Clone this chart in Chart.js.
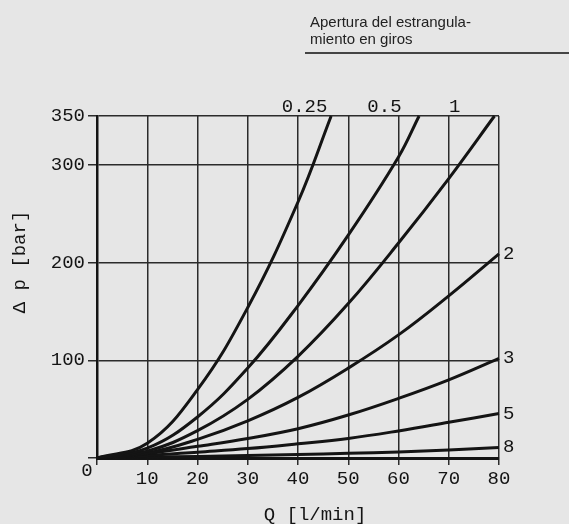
<!DOCTYPE html>
<html>
<head>
<meta charset="utf-8">
<script src="https://cdn.jsdelivr.net/npm/chart.js@4"></script>
<style>
    body {
        margin: 0;
        background: #e6e6e6;
    }
    #wrap {
        position: relative;
        width: 569px;
        height: 524px;
    }
    .legend-title {
        position: absolute;
        left: 310px;
        top: 13px;
        font-family: "Liberation Sans", Arial, sans-serif;
        font-size: 15px;
        line-height: 17px;
        color: #222;
    }
    .legend-rule {
        position: absolute;
        left: 305px;
        top: 52px;
        width: 264px;
        height: 2px;
        background: #444;
    }
</style>
</head>
<body>
<div id="wrap">
    <div class="legend-title">Apertura del estrangula-<br>miento en giros</div>
    <div class="legend-rule"></div>
    <canvas id="throttleChart" width="569" height="524"></canvas>
</div>
<script>
// Opening of the throttle in turns (curve labels)
const openings = ["0.25", "0.5", "1", "2", "3", "5", "8"];

// Flow Q [l/min] and pressure drop [bar]
const q025 = [0, 10, 20, 30, 40, 46.6];
const p025 = [0, 15, 70, 154, 262, 350];

const q05 = [0, 10, 20, 30, 40, 50, 60, 64.1];
const p05 = [0, 10, 42, 92, 156, 228, 308, 350];

const q1 = [0, 10, 20, 30, 40, 50, 60, 70, 79.1];
const p1 = [0, 7, 28, 60, 104, 158, 220, 286, 350];

const flowQ = [0, 10, 20, 30, 40, 50, 60, 70, 80];
const p2 = [0, 5, 19, 38, 62, 92, 126, 166, 209];
const p3 = [0, 4.5, 12, 20, 30, 44, 61, 80, 102];
const p5 = [0, 2.5, 6, 9.6, 14.5, 20, 27.7, 36.5, 45.5];
const p8 = [0, 0.8, 1.6, 2.5, 3.6, 4.8, 6.2, 8.2, 10.8];

// Axis ticks
const yTicks = [0, 100, 200, 300, 350];
const xMax = 80;

const seriesQ = [q025, q05, q1, flowQ, flowQ, flowQ, flowQ];
const seriesP = [p025, p05, p1, p2, p3, p5, p8];

// Where each curve name goes: "top" labels sit above the frame at a Q value,
// "end" labels sit right of the curve's last point
const labelPlace = [
    { at: "top", q: 41.3 },
    { at: "top", q: 57.2 },
    { at: "top", q: 71.2 },
    { at: "end" },
    { at: "end" },
    { at: "end" },
    { at: "end" },
];

const ink = "#141414";
const gridInk = "#2b2b2b";
const monoFont = "'Liberation Mono', 'DejaVu Sans Mono', monospace";

const curveText = {
    id: "curveText",
    afterDraw(chart) {
        const { ctx, chartArea } = chart;
        const xs = chart.scales.x;
        const ys = chart.scales.y;
        ctx.save();
        ctx.fillStyle = ink;
        ctx.font = "19px " + monoFont;
        ctx.textBaseline = "middle";

        openings.forEach((name, i) => {
            const place = labelPlace[i];
            if (place.at === "top") {
                ctx.textAlign = "center";
                ctx.fillText(name, xs.getPixelForValue(place.q), chartArea.top - 9);
            } else {
                const q = seriesQ[i][seriesQ[i].length - 1];
                const p = seriesP[i][seriesP[i].length - 1];
                ctx.textAlign = "left";
                ctx.fillText(name, xs.getPixelForValue(q) + 4, ys.getPixelForValue(p));
            }
        });

        // shared origin label
        ctx.textAlign = "center";
        ctx.fillText("0", chartArea.left - 10, chartArea.bottom + 13);

        // axis titles
        ctx.fillText("Q [l/min]", 315, 515);
        ctx.translate(20, 262);
        ctx.rotate(-Math.PI / 2);
        ctx.fillText("\u0394 p [bar]", 0, 0);
        ctx.restore();
    },
};

function createThrottleChart() {
    const ctx = document.getElementById("throttleChart").getContext("2d");

    const datasets = openings.map((name, i) => ({
        label: name,
        data: seriesQ[i].map((q, k) => ({ x: q, y: seriesP[i][k] })),
        borderColor: ink,
        borderWidth: 3,
        pointRadius: 0,
        tension: 0.4,
        fill: false,
        clip: false,
    }));

    new Chart(ctx, {
        type: "line",
        data: { datasets: datasets },
        options: {
            responsive: false,
            animation: false,
            layout: {
                padding: { top: 116, right: 70, left: 0, bottom: 0 },
            },
            plugins: {
                legend: { display: false },
                tooltip: { enabled: false },
            },
            scales: {
                x: {
                    type: "linear",
                    min: 0,
                    max: xMax,
                    ticks: {
                        stepSize: 10,
                        color: ink,
                        padding: 3,
                        font: { family: monoFont, size: 19 },
                        callback: (v) => (v === 0 ? "" : v),
                    },
                    grid: {
                        color: gridInk,
                        lineWidth: 1.5,
                        tickLength: 7,
                    },
                    border: { color: ink, width: 3 },
                    afterFit: (scale) => {
                        scale.height = 66;
                    },
                },
                y: {
                    type: "linear",
                    min: 0,
                    max: 350,
                    afterBuildTicks: (scale) => {
                        scale.ticks = yTicks.map((v) => ({ value: v }));
                    },
                    ticks: {
                        color: ink,
                        padding: 3,
                        font: { family: monoFont, size: 19 },
                        callback: (v) => (v === 0 ? "" : v),
                    },
                    grid: {
                        color: gridInk,
                        lineWidth: 1.5,
                        tickLength: 9,
                    },
                    border: { color: ink, width: 2.5 },
                    afterFit: (scale) => {
                        scale.width = 97;
                    },
                },
            },
        },
        plugins: [curveText],
    });
}

document.addEventListener("DOMContentLoaded", createThrottleChart);
</script>
</body>
</html>
